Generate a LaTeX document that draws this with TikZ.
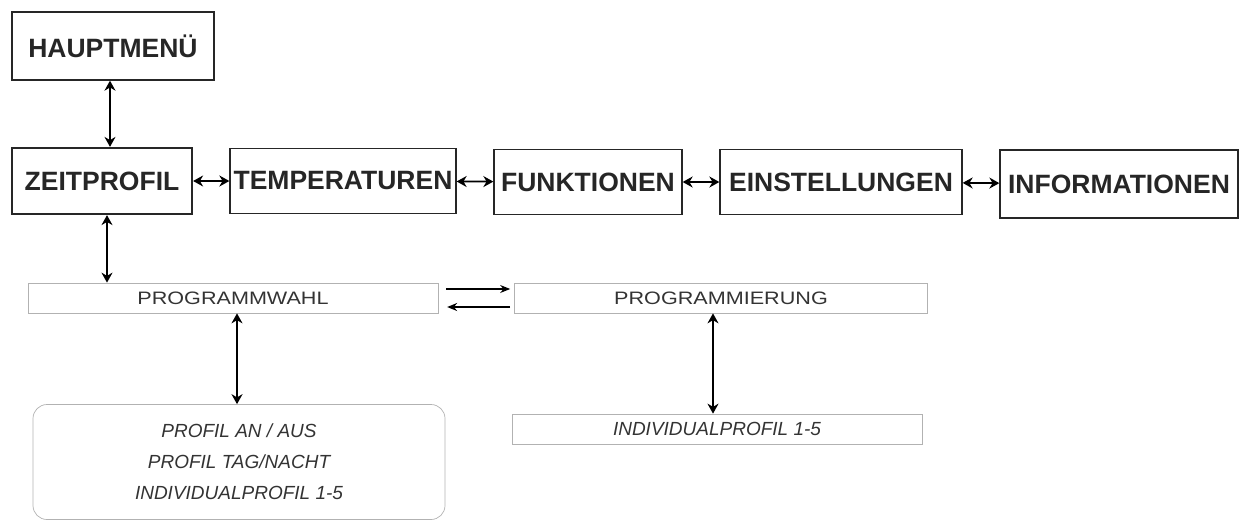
\documentclass[tikz,border=0pt]{standalone}
\usepackage{fontspec}
\setmainfont{Liberation Sans}
\newfontfamily\widefont[FakeStretch=1.2]{Liberation Sans}
\usetikzlibrary{arrows.meta}
\begin{document}
\begin{tikzpicture}[x=1pt,y=-1pt,
  mbox/.style={draw=black!85,line width=1.3pt,text=black!85,font=\bfseries\fontsize{26.5}{28}\selectfont,inner sep=0pt},
  lbox/.style={draw=gray!60,line width=0.7pt,text=black!80,font=\widefont\fontsize{18}{20}\selectfont,inner sep=0pt},
  arr/.style={{Stealth[length=10pt,width=11pt]}-{Stealth[length=10pt,width=11pt]},line width=1.7pt},
  sarr/.style={-{Stealth[length=10pt,width=8pt]},line width=1.4pt}]
\useasboundingbox (0,0) rectangle (1245,523);
\node[mbox,minimum width=202,minimum height=68] (haupt) at (113,46) {HAUPTMENÜ};
\node[mbox,line width=2.2pt,minimum width=180,minimum height=66] (zeit) at (102,181) {ZEITPROFIL};
\node[mbox,minimum width=226,minimum height=65] (temp) at (343,181) {TEMPERATUREN};
\node[mbox,minimum width=188,minimum height=65] (funk) at (588,182) {FUNKTIONEN};
\node[mbox,minimum width=242,minimum height=65] (ein) at (841,182) {EINSTELLUNGEN};
\node[mbox,minimum width=238,minimum height=68] (info) at (1119,184) {INFORMATIONEN};
\node[lbox,minimum width=410,minimum height=30] (pw) at (233,298) {PROGRAMMWAHL};
\node[lbox,minimum width=413,minimum height=30] (pm) at (721,298) {PROGRAMMIERUNG};
\node[lbox,rounded corners=14pt,minimum width=412,minimum height=115,align=center,font=\itshape\fontsize{19}{31}\selectfont] (list) at (239,462) {PROFIL AN / AUS\\PROFIL TAG/NACHT\\INDIVIDUALPROFIL 1-5};
\node[lbox,minimum width=410,minimum height=30,font=\itshape\fontsize{19}{21}\selectfont] (ind) at (717,429) {INDIVIDUALPROFIL 1-5};
\draw[arr] (haupt.south -| 110,0) -- (zeit.north -| 110,0);
\draw[arr] (zeit.south -| 107,0) -- (pw.north -| 107,0);
\draw[arr] (zeit) -- (temp);
\draw[arr] (temp) -- (funk);
\draw[arr] (funk) -- (ein);
\draw[arr] (ein) -- (info);
\draw[sarr] (pw.east |- 0,289) ++(8,0) -- ([xshift=-4pt]pm.west |- 0,289);
\draw[sarr] ([xshift=-4pt]pm.west |- 0,307) -- ++(-63,0);
\draw[arr] (pw.south -| 237,0) -- (list.north -| 237,0);
\draw[arr] (pm.south -| 713,0) -- (ind.north -| 713,0);
\end{tikzpicture}
\end{document}
